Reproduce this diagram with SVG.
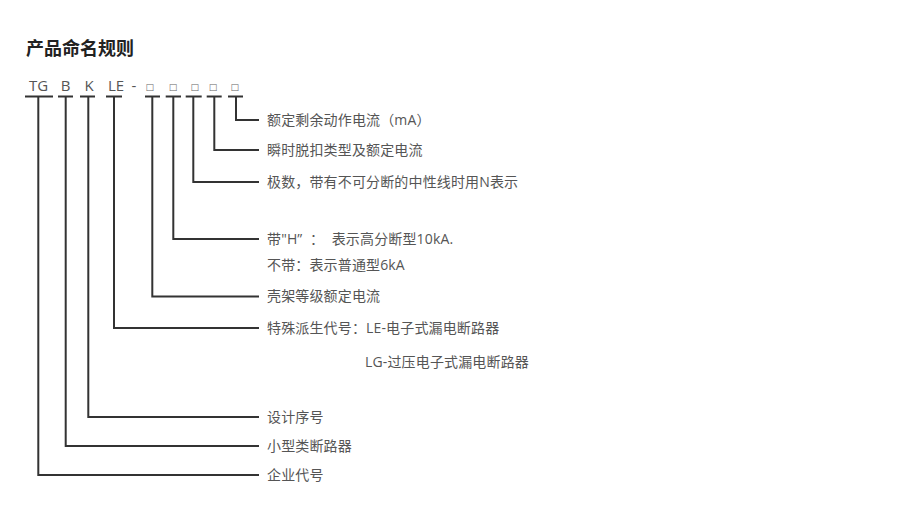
<svg xmlns="http://www.w3.org/2000/svg" width="900" height="522" viewBox="0 0 900 522">
<style>
.t{font-family:"Open Sans","Noto Sans CJK SC",sans-serif;font-size:14px;fill:#555;letter-spacing:0.15px}
.c{font-family:"Open Sans","Noto Sans CJK SC",sans-serif;font-size:15px;fill:#555;text-anchor:middle}
.b{font-family:"DejaVu Sans",sans-serif;font-size:9px;fill:#666;text-anchor:middle}
.h{font-family:"Noto Sans CJK SC",sans-serif;font-size:18px;font-weight:bold;fill:#222}
.ln{fill:none;stroke:#333;stroke-width:2}
</style>
<rect width="900" height="522" fill="#fff"/>
<g id="title"><text class="h" x="26" y="55">产品命名规则</text></g>
<g id="code">
<text class="c" x="38.5" y="90.5">TG</text>
<text class="c" x="65.7" y="90.5">B</text>
<text class="c" x="89" y="90.5">K</text>
<text class="c" x="116" y="90.5">LE</text>
<text class="c" x="134" y="90.5">-</text>
<text class="b" x="149.7" y="90">□</text>
<text class="b" x="173" y="90">□</text>
<text class="b" x="194.7" y="90">□</text>
<text class="b" x="213" y="90">□</text>
<text class="b" x="234.7" y="90">□</text>
</g>
<g id="connectors">
<path class="ln" d="M25 96.5H53M38.3 96.5V475H259"/>
<path class="ln" d="M58 96.5H73M65.7 96.5V446H259"/>
<path class="ln" d="M80 96.5H95M88.3 96.5V417H259"/>
<path class="ln" d="M106 96.5H122M114 96.5V328H259"/>
<path class="ln" d="M145 96.5H160M152.3 96.5V296.5H259"/>
<path class="ln" d="M165.7 96.5H181M173.3 96.5V239H259"/>
<path class="ln" d="M185.7 96.5H201.7M193.3 96.5V182H259"/>
<path class="ln" d="M206.7 96.5H221.7M214.3 96.5V150H259"/>
<path class="ln" d="M228 96.5H243M236 96.5V120H259"/>
</g>
<g id="labels">
<text class="t" x="267" y="125">额定剩余动作电流（mA）</text>
<text class="t" x="267" y="155">瞬时脱扣类型及额定电流</text>
<text class="t" x="267" y="187">极数，带有不可分断的中性线时用N表示</text>
<text class="t" x="267" y="244" xml:space="preserve">带"H”  ：  表示高分断型10kA.</text>
<text class="t" x="267" y="270">不带：表示普通型6kA</text>
<text class="t" x="267" y="301">壳架等级额定电流</text>
<text class="t" x="267" y="333">特殊派生代号：LE-电子式漏电断路器</text>
<text class="t" x="365" y="367">LG-过压电子式漏电断路器</text>
<text class="t" x="267" y="422">设计序号</text>
<text class="t" x="267" y="451">小型类断路器</text>
<text class="t" x="267" y="480">企业代号</text>
</g>
</svg>
